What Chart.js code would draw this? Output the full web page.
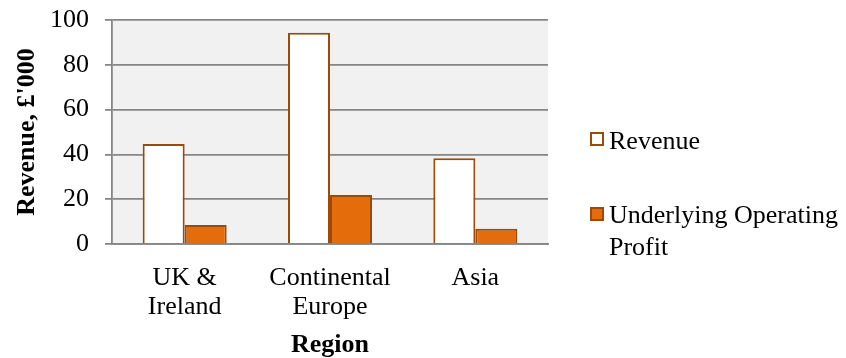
<!DOCTYPE html>
<html>
<head>
<meta charset="utf-8">
<script src="https://cdn.jsdelivr.net/npm/chart.js@4"></script>
<style>
  body { margin: 0; background: #fff; }
  #wrap { position: relative; width: 846px; height: 358px; }
  .leg { position: absolute; font-family: "Liberation Serif", serif; font-size: 26px; line-height: 31.5px; color: #000; }
  .box { position: absolute; width: 14px; height: 14px; box-sizing: border-box; border: 2px solid #9c4a0a; }
</style>
</head>
<body>
<div id="wrap">
  <canvas id="c" width="846" height="358"></canvas>
  <div class="box" style="left:590px; top:132px; background:#fff;"></div>
  <div class="leg" style="left:609px; top:125px;">Revenue</div>
  <div class="box" style="left:590px; top:207px; background:#e46c0a;"></div>
  <div class="leg" style="left:609px; top:199px;">Underlying Operating<br>Profit</div>
</div>
<script>
// Kategoriler ve seriler
const regions = [["UK &", "Ireland"], ["Continental", "Europe"], ["Asia"]];
const revenue = [44.6, 94.3, 38.3];
const profit = [8.5, 21.9, 6.8];
const yTicks = [0, 20, 40, 60, 80, 100];

const serif = "'Liberation Serif', 'Times New Roman', serif";
const gridGray = "#868686";

// Çizim alanının gri arka planı
const plotBg = {
  id: "plotBg",
  beforeDraw(chart) {
    const { ctx, chartArea: a } = chart;
    ctx.save();
    ctx.fillStyle = "#f1f1f1";
    ctx.fillRect(a.left, a.top, a.right - a.left, a.bottom - a.top);
    ctx.restore();
  }
};

new Chart(document.getElementById("c"), {
  type: "bar",
  data: {
    labels: regions,
    datasets: [
      { label: "Revenue", data: revenue, backgroundColor: "#ffffff", borderColor: "#9c4a0a", borderWidth: 2 },
      { label: "Underlying Operating Profit", data: profit, backgroundColor: "#e46c0a", borderColor: "#9c4a0a", borderWidth: 2 }
    ]
  },
  options: {
    responsive: false,
    animation: false,
    layout: { padding: { top: 20, right: 298, left: 0, bottom: 0 } },
    datasets: { bar: { categoryPercentage: 0.578, barPercentage: 1 } },
    plugins: { legend: { display: false }, tooltip: { enabled: false } },
    scales: {
      x: {
        grid: { display: false },
        border: { display: true, color: gridGray, width: 1.8 },
        ticks: { color: "#000", font: { family: serif, size: 26, lineHeight: 1.13 }, padding: 11, maxRotation: 0 },
        title: { display: true, text: "Region", color: "#000", font: { family: serif, size: 26, weight: "bold", lineHeight: 1 }, padding: 0 },
        afterFit(s) { s.height = 114; }
      },
      y: {
        min: 0,
        max: 100,
        afterBuildTicks(s) { s.ticks = yTicks.map(v => ({ value: v })); },
        grid: { color: gridGray, lineWidth: 1.8, tickLength: 7, tickColor: gridGray },
        border: { display: true, color: gridGray, width: 1.8 },
        ticks: { color: "#000", font: { family: serif, size: 26, lineHeight: 0.2 }, padding: 16 },
        title: { display: true, text: "Revenue, £'000", color: "#000", font: { family: serif, size: 26, weight: "bold", lineHeight: 1 }, padding: { top: 14, bottom: 0 } },
        afterFit(s) { s.width = 112; }
      }
    }
  },
  plugins: [plotBg]
});
</script>
</body>
</html>
